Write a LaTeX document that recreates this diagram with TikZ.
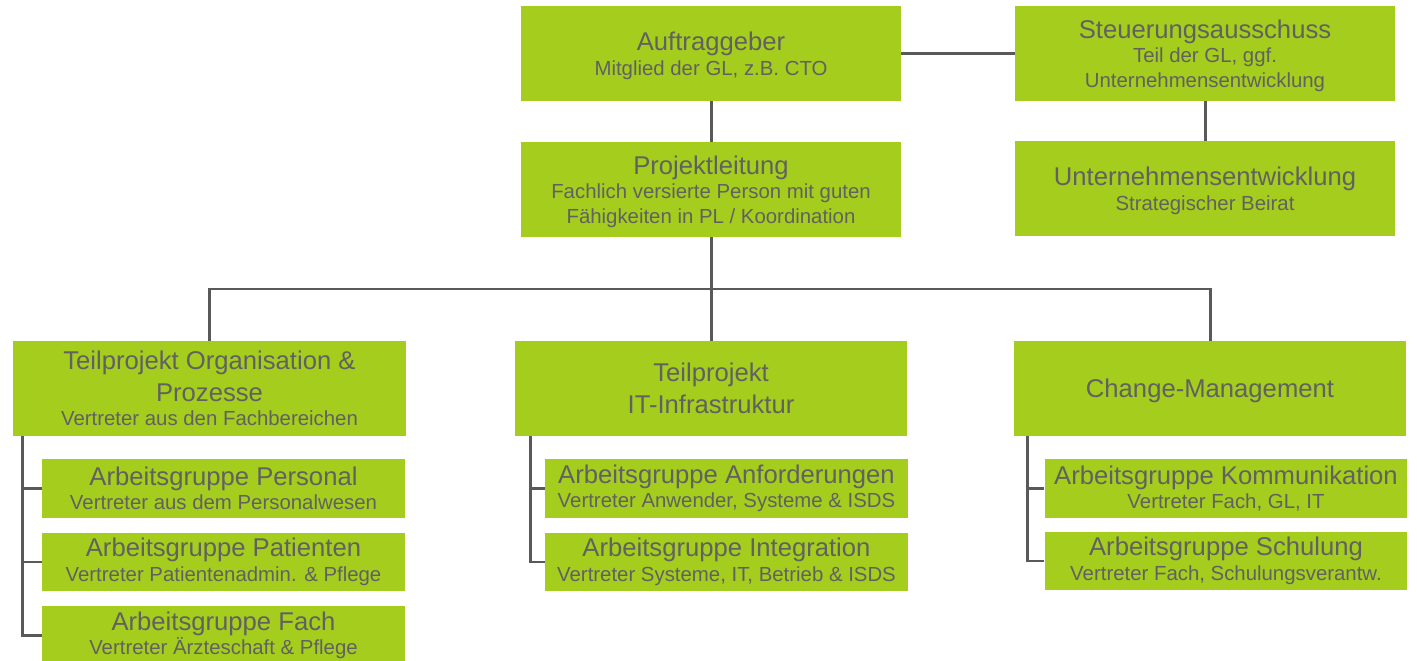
\documentclass[tikz,border=0pt]{standalone}
\usepackage{fontspec}
\setmainfont{Liberation Sans}
\usepackage{tikz}
\usetikzlibrary{positioning}

\definecolor{orggreen}{HTML}{A5CD1E}
\definecolor{orgtext}{HTML}{616161}
\definecolor{orgline}{HTML}{595959}
\newcommand{\subtxt}{\fontsize{11.6}{14}\selectfont}

\begin{document}
\begin{tikzpicture}[x=0.02cm, y=-0.02cm,
  box/.style={fill=orggreen, text=orgtext, align=center, inner sep=0pt, font=\fontsize{14.6}{14}\selectfont},
  topbox/.style={box, minimum width=7.6cm, minimum height=1.9cm, text depth=0pt},
  tpbox/.style={box, minimum width=7.85cm, minimum height=1.9cm, text depth=0pt},
  agbox/.style={box, minimum width=7.26cm, minimum height=1.18cm},
  link/.style={draw=orgline, line width=1.7pt}]
\useasboundingbox (0,0) rectangle (1417,661);
\node[topbox] (auf) at (711,53.5) {Auftraggeber\\{\subtxt Mitglied der GL, z.B. CTO}};
\node[topbox] (steuer) at (1205,53.5) {Steuerungsausschuss\\{\subtxt Teil der GL, ggf.}\\{\subtxt Unternehmensentwicklung}};
\node[topbox] (pl) at (711,189.5) {Projektleitung\\{\subtxt Fachlich versierte Person mit guten}\\{\subtxt Fähigkeiten in PL / Koordination}};
\node[topbox] (ue) at (1205,188.5) {Unternehmensentwicklung\\{\subtxt Strategischer Beirat}};
\node[tpbox] (tporg) at (209.5,388.5) {Teilprojekt Organisation \&\\[4pt]Prozesse\\{\subtxt Vertreter aus den Fachbereichen}};
\node[tpbox] (tpit) at (711,388.5) {Teilprojekt\\[4pt]IT-Infrastruktur};
\node[tpbox] (tpcm) at (1210,388.5) {Change-Management};
\node[agbox] (agpers) at (223.5,488.5) {Arbeitsgruppe Personal\\{\subtxt Vertreter aus dem Personalwesen}};
\node[agbox] (agpat) at (223.5,562) {Arbeitsgruppe Patienten\\{\subtxt Vertreter Patientenadmin. \& Pflege}};
\node[agbox] (agfach) at (223.5,635.5) {Arbeitsgruppe Fach\\{\subtxt Vertreter Ärzteschaft \& Pflege}};
\node[agbox] (aganf) at (726.5,488.5) {Arbeitsgruppe Anforderungen\\{\subtxt Vertreter Anwender, Systeme \& ISDS}};
\node[agbox] (agint) at (726.5,562) {Arbeitsgruppe Integration\\{\subtxt Vertreter Systeme, IT, Betrieb \& ISDS}};
\node[agbox] (agkom) at (1226,488.5) {Arbeitsgruppe Kommunikation\\{\subtxt Vertreter Fach, GL, IT}};
\node[agbox] (agsch) at (1226,561) {Arbeitsgruppe Schulung\\{\subtxt Vertreter Fach, Schulungsverantw.}};
\coordinate (bar) at (711,289);
\draw[link] (auf) -- (steuer);
\draw[link] (auf) -- (pl);
\draw[link] (steuer) -- (ue);
\draw[link] (pl) -- (bar);
\draw[link] (bar) -- (tpit);
\draw[link] (tporg) |- (bar) -| (tpcm);
\coordinate (orgbus) at ([xshift=0.2cm]tporg.south west);
\coordinate (itbus) at ([xshift=0.32cm]tpit.south west);
\coordinate (cmbus) at ([xshift=0.28cm]tpcm.south west);
\draw[link] (orgbus) |- (agfach.west);
\draw[link] (itbus) |- (agint.west);
\draw[link] (cmbus) |- (agsch.west);
\foreach \g in {agpers,agpat} \draw[link] (orgbus |- \g.west) -- (\g.west);
\draw[link] (itbus |- aganf.west) -- (aganf.west);
\draw[link] (cmbus |- agkom.west) -- (agkom.west);
\end{tikzpicture}
\end{document}
